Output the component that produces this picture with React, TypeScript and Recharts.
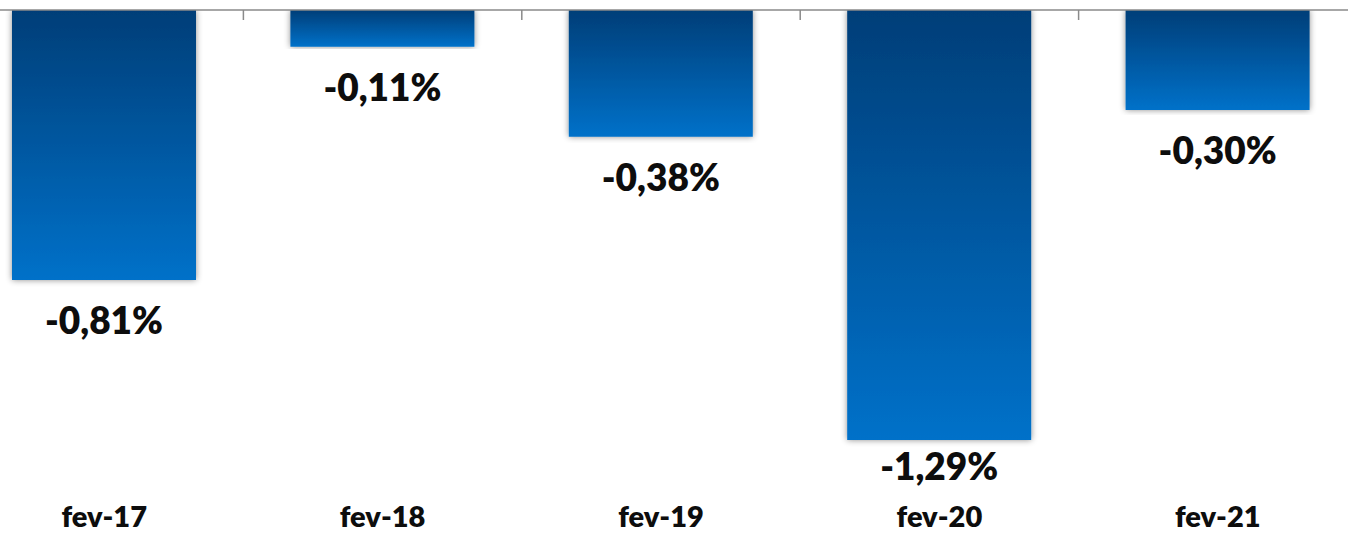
import { BarChart, Bar, XAxis, YAxis, LabelList } from 'recharts';

const categories = ['fev-17', 'fev-18', 'fev-19', 'fev-20', 'fev-21'];
const values = [-0.81, -0.11, -0.38, -1.29, -0.3];
const boundaryTicks = [1, 2, 3, 4];

const data = categories.map((name, i) => ({ name, idx: i + 0.5, value: values[i] }));

const CHART_W = 1392;
const CHART_H = 535;
const TOP_AXIS_H = 10;
const BOTTOM_AXIS_H = 25;
const PLOT_BOTTOM = 510;
const FONT = "Lato, 'Open Sans', sans-serif";

const fmt = (v: number) => v.toFixed(2).replace('.', ',') + '%';

const ValueLabel = (props: any) => {
  const { x, y, width, height, value } = props;
  const bottom = Math.max(y, y + height);
  const baseline = Math.min(bottom + 54, PLOT_BOTTOM - 30);
  return (
    <text
      x={x + width / 2}
      y={baseline}
      textAnchor="middle"
      fontFamily={FONT}
      fontWeight={800}
      fontSize={37}
      fill="#0d0d0d"
    >
      {fmt(value)}
    </text>
  );
};

// short grey marks hanging down from the top axis line
const BoundaryTick = (props: any) => {
  const { x, y } = props;
  return <line x1={x} x2={x} y1={y} y2={y + 10} stroke="#8a8a8a" strokeWidth={1.5} />;
};

export default function App() {
  return (
    <div
      style={{
        position: 'fixed',
        left: 0,
        top: 0,
        width: 1348,
        height: 533,
        overflow: 'hidden',
        background: '#fff',
      }}
    >
      <div style={{ position: 'absolute', left: -35.5, top: 0 }}>
        <BarChart
          width={CHART_W}
          height={CHART_H}
          data={data}
          margin={{ top: 0, right: 0, bottom: 0, left: 0 }}
        >
          <defs>
            <linearGradient id="barGrad" x1="0" y1="0" x2="0" y2="1">
              <stop offset="0%" stopColor="#003e78" />
              <stop offset="100%" stopColor="#0071c9" />
            </linearGradient>
            <filter id="barShadow" x="-10%" y="-5%" width="120%" height="110%">
              <feDropShadow dx="0" dy="0" stdDeviation="3" floodColor="#000" floodOpacity="0.45" />
            </filter>
          </defs>
          <YAxis hide domain={[-1.5, 0]} allowDataOverflow />
          <XAxis
            xAxisId="cat"
            dataKey="name"
            orientation="bottom"
            height={BOTTOM_AXIS_H}
            axisLine={false}
            tickLine={false}
            tickSize={0}
            tickMargin={-4}
            interval={0}
            tick={{
              fill: '#0d0d0d',
              fontSize: 29,
              fontWeight: 800,
              fontFamily: FONT,
            }}
          />
          <XAxis
            xAxisId="top"
            type="number"
            dataKey="idx"
            orientation="top"
            domain={[0, 5]}
            ticks={boundaryTicks}
            interval={0}
            height={TOP_AXIS_H}
            tick={<BoundaryTick />}
            tickSize={0}
            tickMargin={0}
            tickLine={false}
            axisLine={{ stroke: '#8a8a8a', strokeWidth: 1.5 }}
            allowDataOverflow
          />
          <Bar
            xAxisId="cat"
            dataKey="value"
            barSize={184}
            fill="url(#barGrad)"
            filter="url(#barShadow)"
            isAnimationActive={false}
          >
            <LabelList dataKey="value" content={<ValueLabel />} />
          </Bar>
        </BarChart>
      </div>
    </div>
  );
}
